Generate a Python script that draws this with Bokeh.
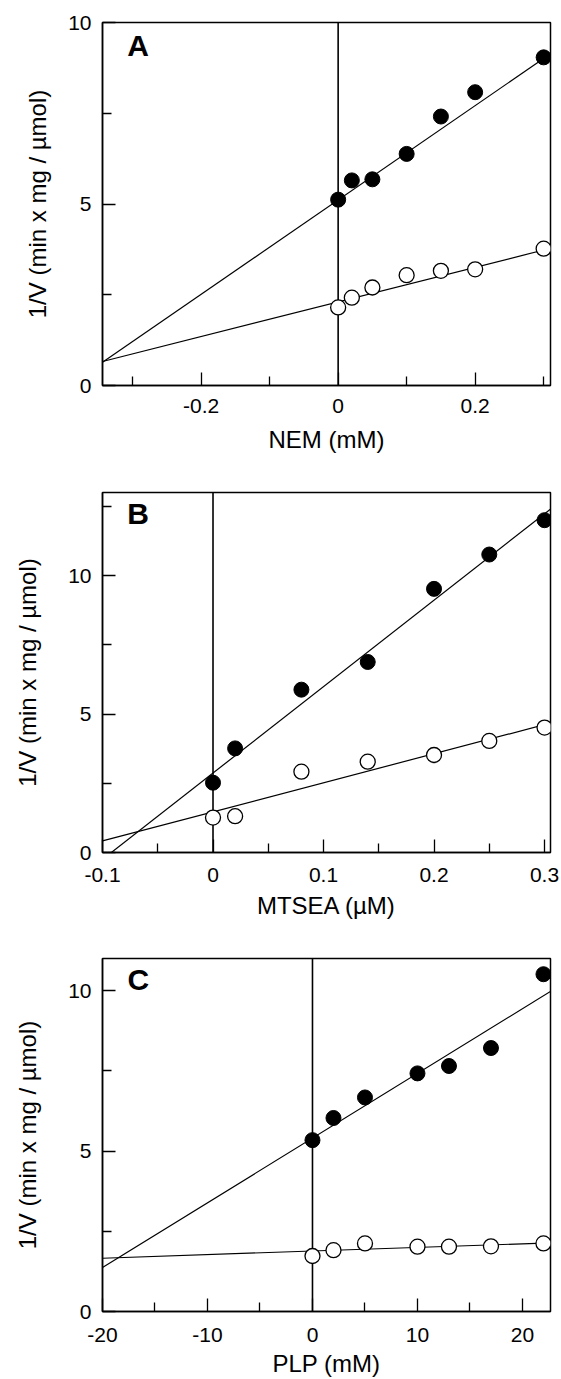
from bokeh.plotting import figure
from bokeh.layouts import column
from bokeh.models import Range1d, FixedTicker, CustomJSTickFormatter, Label, Span
from bokeh.embed import file_html
from bokeh.resources import INLINE

# ---------------- data ----------------
# Panel A: NEM (mM)
nem_x = [0, 0.02, 0.05, 0.1, 0.15, 0.2, 0.3]
nem_filled = [5.12, 5.65, 5.68, 6.38, 7.41, 8.08, 9.04]
nem_open = [2.15, 2.42, 2.70, 3.04, 3.16, 3.20, 3.77]
nem_fit_x = [-0.344, 0.31]
nem_fit_filled = [0.64, 9.14]
nem_fit_open = [0.66, 3.78]

# Panel B: MTSEA (uM)
mtsea_x = [0, 0.02, 0.08, 0.14, 0.2, 0.25, 0.3]
mtsea_filled = [2.52, 3.76, 5.88, 6.88, 9.52, 10.76, 12.0]
mtsea_open = [1.26, 1.31, 2.92, 3.28, 3.52, 4.03, 4.51]
mtsea_fit_x = [-0.1, 0.307]
mtsea_fit_filled = [-0.25, 12.45]
mtsea_fit_open = [0.42, 4.69]

# Panel C: PLP (mM)
plp_x = [0, 2, 5, 10, 13, 17, 22]
plp_filled = [5.34, 6.03, 6.67, 7.42, 7.65, 8.21, 10.51]
plp_open = [1.73, 1.91, 2.12, 2.02, 2.02, 2.03, 2.12]
plp_fit_x = [-20, 22.7]
plp_fit_filled = [1.37, 9.98]
plp_fit_open = [1.66, 2.14]

# axis ticks
a_xmajor = [-0.2, 0, 0.2]
a_xminor = [-0.3, -0.1, 0.1, 0.3]
b_xmajor = [-0.1, 0, 0.1, 0.2, 0.3]
b_xminor = [-0.05, 0.05, 0.15, 0.25]
c_xmajor = [-20, -10, 0, 10, 20]
c_xminor = [-15, -5, 5, 15]
y_major = [0, 5, 10]
a_yminor = [2.5, 7.5]
b_yminor = [2.5, 7.5, 12.5]
c_yminor = [2.5, 7.5]

y_title = "1/V (min x mg / µmol)"
FONT = "Liberation Sans"


def panel(xs, yf, yo, fx, ff, fo, xr, yr, xmaj, xmin, ymaj, ymin,
          xtitle, letter, letter_pos, height, top, frame_h,
          right, tick_standoff, xtitle_standoff, ytitle_standoff):
    p = figure(width=561, height=height, x_range=Range1d(*xr), y_range=Range1d(*yr),
               output_backend="svg", toolbar_location=None,
               min_border_left=102, min_border_right=right, min_border_top=top,
               min_border_bottom=height - top - frame_h)
    p.grid.visible = False
    p.outline_line_color = "black"
    p.outline_line_width = 1.5
    p.background_fill_color = "white"
    p.border_fill_color = "white"

    fmt = CustomJSTickFormatter(code="return String(Math.round(tick*1000)/1000);")
    for ax, maj, mn in ((p.xaxis[0], xmaj, xmin), (p.yaxis[0], ymaj, ymin)):
        ax.ticker = FixedTicker(ticks=maj, minor_ticks=mn)
        ax.formatter = fmt
        ax.major_tick_in = 13
        ax.major_tick_out = 0
        ax.minor_tick_in = 9
        ax.minor_tick_out = 0
        ax.axis_line_width = 1.5
        ax.major_tick_line_width = 1.3
        ax.minor_tick_line_width = 1.3
        ax.major_label_text_font = FONT
        ax.major_label_text_font_size = "21px"
        ax.major_label_text_color = "black"
        ax.axis_label_text_font = FONT
        ax.axis_label_text_font_size = "24px"
        ax.axis_label_text_font_style = "normal"
        ax.axis_label_text_color = "black"
    p.xaxis.major_label_standoff = tick_standoff
    p.xaxis.axis_label = xtitle
    p.xaxis.axis_label_standoff = xtitle_standoff
    p.yaxis.major_label_standoff = 11
    p.yaxis.axis_label = y_title
    p.yaxis.axis_label_standoff = ytitle_standoff

    p.add_layout(Span(location=0, dimension="height", line_color="black",
                      line_width=1.6, level="underlay"))

    p.line(fx, ff, line_color="black", line_width=1.2)
    p.line(fx, fo, line_color="black", line_width=1.2)
    p.scatter(xs, yf, size=15, marker="circle", fill_color="black", line_color="black")
    p.scatter(xs, yo, size=15, marker="circle", fill_color="white",
              line_color="black", line_width=1.3)

    p.add_layout(Label(x=letter_pos[0], y=letter_pos[1], text=letter,
                       text_font=FONT, text_font_size="30px", text_font_style="bold",
                       text_baseline="alphabetic", text_align="left", text_color="black"))
    return p


pa = panel(nem_x, nem_filled, nem_open, nem_fit_x, nem_fit_filled, nem_fit_open,
           (-0.344, 0.31), (0, 10), a_xmajor, a_xminor, y_major, a_yminor,
           "NEM (mM)", "A", (-0.308, 9.37),
           height=466, top=22, frame_h=363, right=5, tick_standoff=13,
           xtitle_standoff=10, ytitle_standoff=14)

pb = panel(mtsea_x, mtsea_filled, mtsea_open, mtsea_fit_x, mtsea_fit_filled, mtsea_fit_open,
           (-0.1, 0.3054), (0, 13), b_xmajor, b_xminor, y_major, b_yminor,
           "MTSEA (µM)", "B", (-0.0775, 12.24),
           height=460, top=26, frame_h=360, right=9, tick_standoff=15,
           xtitle_standoff=7, ytitle_standoff=24)

pc = panel(plp_x, plp_filled, plp_open, plp_fit_x, plp_fit_filled, plp_fit_open,
           (-20, 22.67), (0, 11), c_xmajor, c_xminor, y_major, c_yminor,
           "PLP (mM)", "C", (-17.62, 10.35),
           height=453, top=32, frame_h=357, right=11, tick_standoff=16,
           xtitle_standoff=5, ytitle_standoff=24)

layout = column(pa, pb, pc, spacing=0)
open("out.html", "w").write(file_html(layout, INLINE))
